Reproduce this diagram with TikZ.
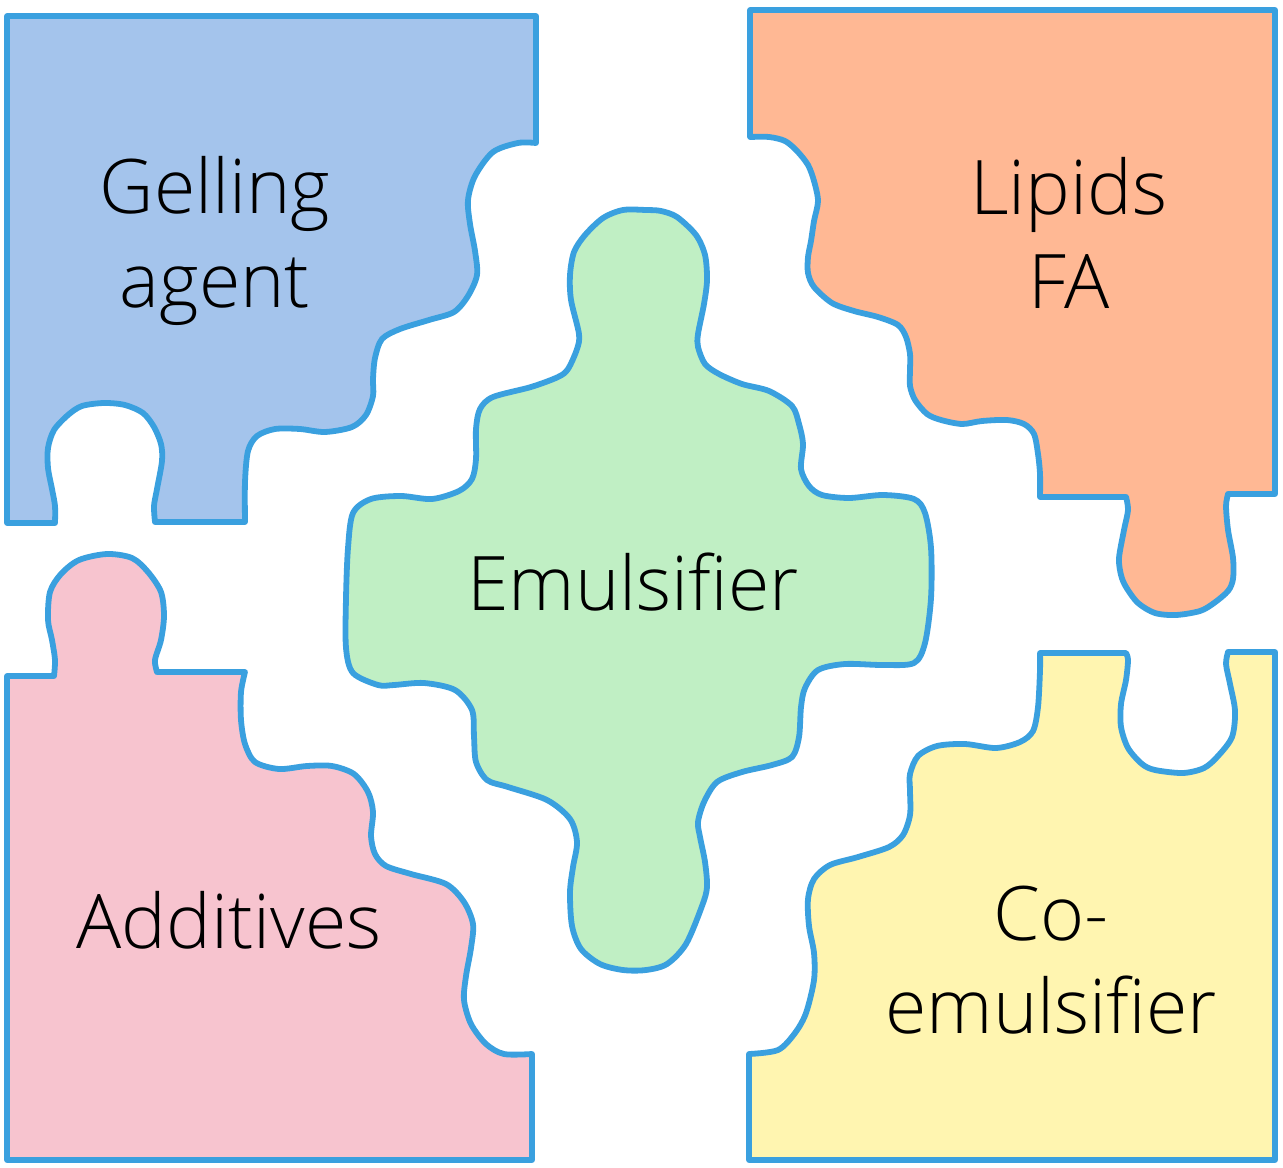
\documentclass[tikz,border=0pt]{standalone}
\usepackage{fontspec}
\setmainfont{Open Sans}[UprightFont=* Light]
\usetikzlibrary{positioning}
\definecolor{edgeblue}{RGB}{58,160,223}
\definecolor{gelfill}{RGB}{164,196,236}
\definecolor{emulfill}{RGB}{192,239,196}
\definecolor{lipfill}{RGB}{255,184,148}
\definecolor{addfill}{RGB}{247,196,207}
\definecolor{cofill}{RGB}{255,245,176}
\tikzset{
  piece/.style={draw=edgeblue, line width=0.058cm, line join=round},
  piecetext/.style={font=\fontsize{21.4}{26.5}\selectfont, align=center, inner sep=0pt},
}

\begin{document}
\begin{tikzpicture}[x=0.01cm, y=-0.01cm]
\useasboundingbox (0,0) rectangle (1283,1167);

\filldraw[piece, fill=gelfill] (7,16) -- (536,16) -- (536,143)
  -- plot[smooth] coordinates {(536,143) (518,143) (493,152) (475,176) (468,200) (470,224) (475,251) (477,275) (468,296) (454,312) (429,320) (400,329) (382,339) (375,358) (373,379) (373,396) (366,415) (352,427) (325,432) (300,429) (275,429) (257,436) (248,451) (245,482) (245,522)}
  -- (155,522)
  -- plot[smooth] coordinates {(155,522) (154,506) (157,489) (162,461) (161,444) (154,427) (143,413) (125,405) (104,403) (82,406) (68,415) (54,430) (48,448) (48,468) (52,489) (55,506) (55,523)}
  -- (7,523) -- cycle;

\filldraw[piece, fill=lipfill] (750,10) -- (1275,10) -- (1275,494) -- (1228,494)
  -- plot[smooth] coordinates {(1228,494) (1226,506) (1228,530) (1233,558) (1233,579) (1228,591) (1214,603) (1200,611) (1176,615) (1155,613) (1138,603) (1126,587) (1121,575) (1119,558) (1124,530) (1128,510) (1126,497)}
  -- (1040,497)
  -- plot[smooth] coordinates {(1040,497) (1040,474) (1038,454) (1034,434) (1024,424) (1007,420) (982,421) (962,424) (941,420) (927,414) (915,400) (910,386) (910,370) (910,354) (906,337) (898,325) (878,317) (854,311) (832,303) (814,287) (808,273) (808,257) (811,241) (814,221) (818,201) (814,181) (808,165) (797,151) (785,141) (769,137) (750,137)}
  -- cycle;

\filldraw[piece, fill=addfill] (7,676) -- (54,676)
  -- plot[smooth] coordinates {(54,676) (55,660) (52,640) (48,620) (50,592) (61,574) (79,560) (107,554) (132,558) (148,572) (161,592) (164,616) (161,640) (155,660) (157,672)}
  -- (245,672)
  -- plot[smooth] coordinates {(245,672) (241,692) (241,720) (245,744) (255,762) (279,769) (307,766) (332,766) (354,774) (368,792) (373,812) (371,836) (375,854) (386,866) (411,874) (446,884) (464,902) (473,924) (471,948) (466,976) (464,1000) (471,1024) (486,1044) (504,1054) (532,1054)}
  -- (532,1160) -- (7,1160) -- cycle;

\filldraw[piece, fill=cofill] (1275,652) -- (1275,1160) -- (749,1160) -- (749,1054)
  -- plot[smooth] coordinates {(749,1054) (778,1050) (795,1033) (806,1013) (814,980) (814,953) (809,926) (808,899) (814,879) (830,865) (858,857) (889,847) (903,835) (910,815) (910,791) (910,774) (918,756) (937,746) (965,744) (996,748) (1020,742) (1033,731) (1038,707) (1040,670) (1040,653)}
  -- (1126,653)
  -- plot[smooth] coordinates {(1126,653) (1128,660) (1126,680) (1121,704) (1121,727) (1128,748) (1142,764) (1155,770) (1183,773) (1204,768) (1218,756) (1232,737) (1235,711) (1230,684) (1226,664) (1228,652)}
  -- cycle;

\filldraw[piece, fill=emulfill] plot[smooth cycle] coordinates {(623,210) (646,210) (661,211) (677,217) (696,235) (705,255) (707,280) (704,304) (698,334) (698,347) (705,364) (719,374) (742,384) (769,391) (792,406) (799,424) (803,444) (801,469) (809,486) (822,495) (849,498) (883,495) (914,499) (925,513) (931,548) (931,598) (925,643) (914,663) (883,665) (845,664) (818,670) (805,688) (801,707) (799,737) (792,757) (772,765) (742,772) (717,782) (704,802) (698,822) (700,837) (705,862) (707,887) (702,906) (686,944) (667,964) (646,970) (623,970) (600,964) (581,949) (572,926) (570,892) (573,867) (577,842) (570,819) (547,800) (508,787) (487,780) (476,762) (474,737) (472,710) (455,690) (424,683) (394,685) (378,685) (353,673) (346,648) (346,598) (348,548) (353,513) (371,499) (401,496) (432,499) (459,491) (472,479) (476,459) (476,429) (480,409) (493,397) (531,387) (558,377) (568,369) (577,349) (579,334) (571,300) (570,275) (574,252) (585,235) (603,218)};

\node[piecetext] (gel) at (215,241) {Gelling\\agent};
\node[piecetext] (lip) at (1069,233) {Lipids\\FA};
\node[piecetext, anchor=base] (emul) at (633,610) {Emulsifier};
\node[piecetext, anchor=base] (add) at (229,948) {Additives};
\node[piecetext] (coemul) at (1051,960) {Co-\\emulsifier};
\end{tikzpicture}
\end{document}
